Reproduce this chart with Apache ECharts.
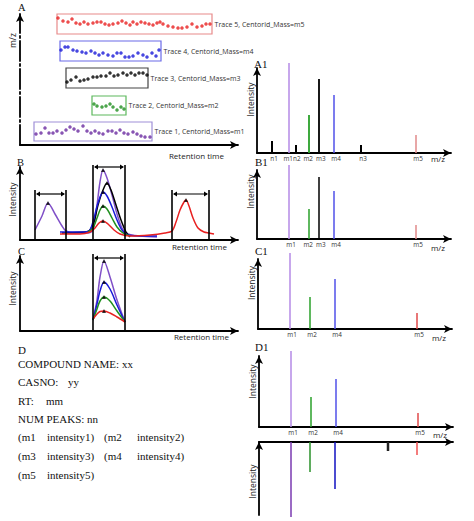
<!DOCTYPE html>
<html><head><meta charset="utf-8">
<script src="https://cdn.jsdelivr.net/npm/echarts@6/dist/echarts.min.js"></script>
<style>html,body{margin:0;padding:0;background:#fff}#c{width:474px;height:521px}</style>
</head><body><div id="c"></div><script>
// ================= DATA =================
// Panel A: extracted ion traces (retention time, m/z), boxes and labels
const traceLabels = ['Trace 1, Centorid_Mass=m1','Trace 2, Centorid_Mass=m2','Trace 3, Centorid_Mass=m3','Trace 4, Centorid_Mass=m4','Trace 5, Centorid_Mass=m5'];
const t1RT = [16,21,25,29,33,37,42,46,50,54,58,63,67,71,75,79,83,88,92,96,100,104,108,113,117,121,125,130];
const t1MZ = [11,12,17,12,12,14,12,15,18,16,14,19,14,12,14,12,11,14,14,12,15,12,11,13,11,9,8,8];
const t2RT = [74,77,82,86,90,93,97,101,104];
const t2MZ = [41,39,38,39,41,38,35,38,36];
const t3RT = [47,51,56,60,64,68,73,77,81,86,90,94,98,103,107,111,115,119,123,127];
const t3MZ = [63,65,68,64,65,66,68,68,69,69,72,69,70,72,70,72,70,72,72,70];
const t4RT = [41,45,48,53,57,62,66,71,75,79,83,88,93,97,101,105,109,113,118,123,127,132,136,139];
const t4MZ = [95,98,98,95,94,93,92,94,92,90,92,90,89,92,92,88,88,89,92,90,88,92,89,95];
const t5RT = [38,43,48,52,56,60,64,68,73,77,81,85,89,93,98,102,106,110,113,117,121,125,129,133,137,140,143,148,153,158,162,167,172,177,182,186,190];
const t5MZ = [127,124,123,126,122,121,123,121,122,123,123,121,120,121,122,124,122,120,123,121,123,122,121,120,122,123,121,119,118,117,117,118,121,118,119,121,121];
const traceBoxRT = [[14,132],[72,106],[46,128],[40,141],[37,192]];
const traceBoxMZ = [[4,23],[30,49],[57,77],[84,104],[111,131]];

// Panel B: chromatograms [retention time, intensity]
const bPurple = [[15,10],[22,24],[28,37],[35,26],[42,14],[46,9],[55,7],[68,7],[73,10],[77,35],[80,58],[83,70],[87,62],[92,45],[97,26],[102,12],[108,6],[120,4],[137,3]];
const bBlack  = [[42,7],[65,8],[70,10],[74,18],[78,35],[83,50],[87,57],[91,50],[96,35],[101,20],[106,8],[110,3]];
const bBlue   = [[40,8],[65,8],[70,10],[74,22],[78,37],[83,48],[87,44],[92,33],[97,20],[102,10],[108,5],[125,4],[137,4]];
const bGreen  = [[68,8],[73,12],[77,22],[80,30],[83,34],[87,31],[92,22],[97,13],[103,7],[110,4]];
const bRed    = [[40,6],[60,6],[70,8],[75,12],[79,17],[83,19],[88,16],[94,10],[100,6],[110,4],[130,5],[145,7],[152,9],[156,18],[160,30],[164,38],[166,40],[169,34],[173,22],[178,12],[184,8],[189,7],[194,6]];
const bApex   = [[28,37],[83,70],[87,57],[83,48],[83,34],[83,19],[166,40]];
const bWindows = [[15,46,50,46],[73,105,75,73],[152,189,50,46]]; // start, end, height, arrow level

// Panel C: deconvoluted peaks
const cPurple = [[73,11],[77,31],[80,54],[84,70],[90,54],[97,31],[105,9]];
const cBlue   = [[73,11],[77,27],[80,40],[84,49],[90,42],[97,26],[105,9]];
const cGreen  = [[73,11],[77,22],[80,30],[84,34],[90,30],[97,20],[105,9]];
const cRed    = [[73,12],[77,17],[80,19.5],[84,20],[90,18],[97,14],[105,9]];
const cApex   = [[84,70],[84,49],[84,34],[84,20]];
const cWindows = [[73,105,77,73]];

// Panel D: library record text
const recordTitle = 'D';
const recordRows = [['COMPOUND NAME: xx'],['CASNO:','yy'],['RT:','mm'],['NUM PEAKS: nn'],
  ['(m1','intensity1)','(m2','intensity2)'],['(m3','intensity3)','(m4','intensity4)'],['(m5','intensity5)']];

// Spectra: m/z and intensity
const a1MZ = [15,32,39,52,62,77,104,159];
const a1I  = [12,90,8,38,74,58,8,18];
const a1Lab = ['n1','m1','n2','m2','m3','m4','n3','m5'];
const b1MZ = [32,52,62,77,159];
const b1I  = [74,30,62,48,14];
const b1Lab = ['m1','m2','m3','m4','m5'];
const c1MZ = [32,52,77,159];
const c1I  = [76,32,50,16];
const c1Lab = ['m1','m2','m4','m5'];
const d1MZ = [32,52,77,159];
const d1I  = [76,30,48,14];
const d1Lab = ['m1','m2','m4','m5'];
const libMZ = [32,51,76,129,158];
const libI  = [75,30,47,9,13];

// ================= STYLE =================
const SANS = '"Open Sans", "Liberation Sans", sans-serif';
const SERIF = '"Liberation Serif", "DejaVu Serif", serif';
const PURPLE_DOT='#6a2aa0', PURPLE_LINE='#8050c8', PURPLE_STICK='#b48ae6';
const BLUE='#1a1ad8', GREEN='#1f8f1f', RED='#e82020', BLACK='#000';
const boxColors = ['#9f8fd8','#5cb85c','#444','#6a6ae8','#e88a8a'];
const dotColors = [PURPLE_DOT, GREEN, BLACK, BLUE, RED];
const a1Col = [BLACK,PURPLE_STICK,BLACK,'#2aa02a',BLACK,'#5050e8',BLACK,'#e08a8a'];
const a1W = [2,1.5,2,1.8,1.8,1.5,2,1.5];
const b1Col = [PURPLE_STICK,'#2aa02a',BLACK,'#5050e8','#e08a8a'];
const c1Col = [PURPLE_STICK,'#2aa02a','#5050e8','#e04a4a'];
const libCol = ['#7a3ab0','#2a902a','#1010c0','#222','#f05050'];
const libW = [1.5,1.5,1.5,2.5,1.5];
// label alignment under each stick: c = centred, r = ends at stick, l = starts at stick
const a1Align = ['c','r','l','r','l','c','c','c'];
const b1Align = ['c','r','l','c','c'];

const grids = [
  {left:20, top:14, width:218, height:131},  // A
  {left:20, top:167, width:218, height:73},  // B
  {left:20, top:256, width:218, height:75},  // C
  {left:257, top:68, width:194, height:85},  // A1
  {left:257, top:170, width:194, height:69}, // B1
  {left:258, top:259, width:194, height:70}, // C1
  {left:259, top:356, width:194, height:71}, // D1 upper
  {left:259, top:442, width:194, height:73}  // D1 library
];

function aLine(extra){
  return {show:true,onZero:false,symbol:['none','arrow'],symbolSize:[6,8],
    lineStyle:Object.assign({color:'#000',width:1.8},extra||{})};
}
function xAx(gi, name, gap, padTop, extra){
  return Object.assign({type:'value',gridIndex:gi,min:0,max:grids[gi].width,axisLine:aLine(),
    axisTick:{show:false},axisLabel:{show:false},splitLine:{show:false},
    name:name||'',nameLocation:'end',nameGap:gap||0,
    nameTextStyle:{align:'right',verticalAlign:'top',padding:[padTop||0,0,0,0],fontSize:8,fontFamily:SANS,color:'#222'}},extra||{});
}
function yAx(gi, name, gap, shift, extra, lineExtra){
  return Object.assign({type:'value',gridIndex:gi,min:0,max:grids[gi].height,axisLine:aLine(lineExtra),
    axisTick:{show:false},axisLabel:{show:false},splitLine:{show:false},
    name:name,nameLocation:'middle',nameRotate:90,nameGap:gap,
    nameTextStyle:{fontSize:8.5,fontFamily:SANS,color:'#222',padding:[0,0,0,shift*2]}},extra||{});
}

const xAxis = [
  xAx(0,'Retention time',-14,6),
  xAx(1,'Retention time',-11,2),
  xAx(2,'Retention time',-9,1),
  xAx(3,'m/z',-6,1.5),
  xAx(4,'m/z',-6,4.5),
  xAx(5,'m/z',-6,4),
  xAx(6,'m/z',-6,3),
  xAx(7,'',0,0,{position:'top'})
];
const yAxis = [
  yAx(0,'m/z',3,39,null,{type:[20,3,2,3]}),
  yAx(1,'Intensity',3,4),
  yAx(2,'Intensity',3,5),
  yAx(3,'Intensity',2,11),
  yAx(4,'Intensity',2,13),
  yAx(5,'Intensity',2,11),
  yAx(6,'Intensity',2,10),
  yAx(7,'Intensity',2,-3,{inverse:true})
];

const series = [];
// Panel A
const tRT=[t1RT,t2RT,t3RT,t4RT,t5RT], tMZ=[t1MZ,t2MZ,t3MZ,t4MZ,t5MZ];
for(let k=0;k<5;k++){
  series.push({type:'scatter',xAxisIndex:0,yAxisIndex:0,symbolSize:3.5,silent:true,
    itemStyle:{color:dotColors[k]},
    data:tRT[k].map((r,i)=>[r,tMZ[k][i]]),
    markArea:{silent:true,itemStyle:{color:'rgba(0,0,0,0)',borderColor:boxColors[k],borderWidth:1.2},
      label:{show:true,position:'right',distance:2,color:'#333',fontSize:7,fontFamily:SANS},
      data:[[{name:traceLabels[k],coord:[traceBoxRT[k][0],traceBoxMZ[k][0]]},{coord:[traceBoxRT[k][1],traceBoxMZ[k][1]]}]]}
  });
}
function lineS(gi,data,color){
  return {type:'line',xAxisIndex:gi,yAxisIndex:gi,data,showSymbol:false,smooth:0.3,silent:true,
    lineStyle:{color,width:1.5}};
}
function apexS(gi,data){
  return {type:'scatter',xAxisIndex:gi,yAxisIndex:gi,data,symbol:'triangle',symbolSize:4,silent:true,
    itemStyle:{color:'#000'},z:5};
}
function windowS(gi,data){
  return {type:'custom',xAxisIndex:gi,yAxisIndex:gi,data,silent:true,encode:{x:0,y:2},z:6,
    renderItem:function(params,api){
      const x0=api.value(0),x1=api.value(1),h=api.value(2),ay=api.value(3);
      const b0=api.coord([x0,0]),t0=api.coord([x0,h]),b1=api.coord([x1,0]),t1=api.coord([x1,h]);
      const a0=api.coord([x0,ay]),a1=api.coord([x1,ay]);
      const s={stroke:'#000',lineWidth:1.6};
      const hw=2.5,hl=4;
      return {type:'group',children:[
        {type:'line',shape:{x1:b0[0],y1:b0[1],x2:t0[0],y2:t0[1]},style:s},
        {type:'line',shape:{x1:b1[0],y1:b1[1],x2:t1[0],y2:t1[1]},style:s},
        {type:'line',shape:{x1:a0[0]+2,y1:a0[1],x2:a1[0]-2,y2:a1[1]},style:{stroke:'#000',lineWidth:1.2}},
        {type:'polygon',shape:{points:[[a0[0]+1,a0[1]],[a0[0]+1+hl,a0[1]-hw],[a0[0]+1+hl,a0[1]+hw]]},style:{fill:'#000'}},
        {type:'polygon',shape:{points:[[a1[0]-1,a1[1]],[a1[0]-1-hl,a1[1]-hw],[a1[0]-1-hl,a1[1]+hw]]},style:{fill:'#000'}}
      ]};
    }};
}
// Panel B
series.push(lineS(1,bPurple,PURPLE_LINE),lineS(1,bBlack,BLACK),lineS(1,bBlue,BLUE),lineS(1,bGreen,GREEN),lineS(1,bRed,RED));
series.push(apexS(1,bApex),windowS(1,bWindows));
// Panel C
series.push(lineS(2,cPurple,PURPLE_LINE),lineS(2,cBlue,BLUE),lineS(2,cGreen,GREEN),lineS(2,cRed,RED));
series.push(apexS(2,cApex),windowS(2,cWindows));

function stickS(gi,mz,inten,colors,labels,widths,aligns){
  return {type:'custom',xAxisIndex:gi,yAxisIndex:gi,silent:true,encode:{x:0,y:1},
    data:mz.map((m,i)=>[m,inten[i]]),
    renderItem:function(params,api){
      const i=params.dataIndex;
      const p0=api.coord([api.value(0),0]),p1=api.coord([api.value(0),api.value(1)]);
      const ch=[{type:'line',shape:{x1:p0[0],y1:p0[1],x2:p1[0],y2:p1[1]},
        style:{stroke:colors[i],lineWidth:(widths&&widths[i])||1.5}}];
      if(labels){
        const a=(aligns&&aligns[i])||'c';
        const ax = a==='r'? p0[0]+4 : (a==='l'? p0[0]-3 : p0[0]+2);
        const al = a==='r'?'right':(a==='l'?'left':'center');
        ch.push({type:'text',x:ax,y:p0[1]+1,scaleX:0.8,
          style:{text:labels[i],fill:'#333',font:'8px '+SANS,align:al,verticalAlign:'top'}});
      }
      return {type:'group',children:ch};
    }};
}
series.push(stickS(3,a1MZ,a1I,a1Col,a1Lab,a1W,a1Align));
series.push(stickS(4,b1MZ,b1I,b1Col,b1Lab,null,b1Align));
series.push(stickS(5,c1MZ,c1I,c1Col,c1Lab));
series.push(stickS(6,d1MZ,d1I,c1Col,d1Lab));
series.push(stickS(7,libMZ,libI,libCol,null,libW));

// Graphic text: panel letters and record
const graphic = [];
function txt(text,x,y,font){
  graphic.push({type:'text',x,y,silent:true,style:{text,fill:'#111',font,verticalAlign:'middle'}});
}
const LET='10.5px '+SERIF;
txt('A',18,7,LET); txt('B',17,162,LET); txt('C',18,251,LET);
txt('A1',254,64,'11px '+SERIF); txt('B1',255,162,'11px '+SERIF); txt('C1',255,251,'11px '+SERIF); txt('D1',255,347,'11px '+SERIF);
txt(recordTitle,18,350,'11px '+SERIF);
const rowY=[364,382,401,419,437,456,475];
const colX={2:[18,68],3:[18,46],4:[18,47,104,137]};
recordRows.forEach((row,r)=>{
  const xs = row.length===1?[18]:(r===1?colX[2]:(r===2?colX[3]:colX[4]));
  row.forEach((t,c)=>txt(t,xs[c],rowY[r],'11px '+SERIF));
});

const chart = echarts.init(document.getElementById('c'),null,{renderer:'svg'});
chart.setOption({backgroundColor:'#fff',animation:false,grid:grids,xAxis,yAxis,series,graphic});
</script></body></html>
